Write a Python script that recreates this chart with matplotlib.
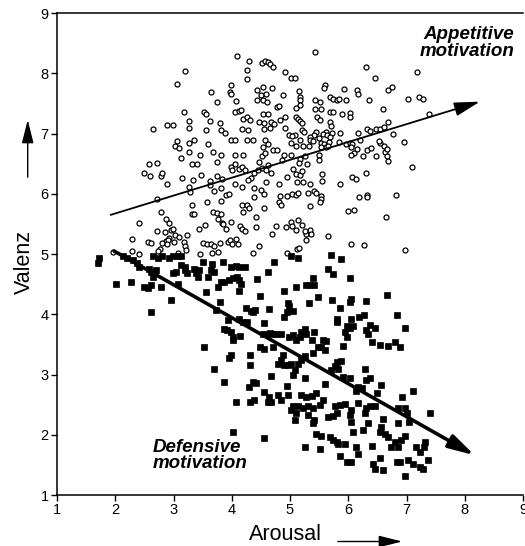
import matplotlib
matplotlib.use("Agg")
import matplotlib.pyplot as plt
from matplotlib.patches import FancyArrowPatch

plt.rcParams['font.family'] = ['Liberation Sans', 'DejaVu Sans']

# appetitive ratings (open circles): arousal, valence
app_x = [4.09, 4.30, 4.26, 4.52, 4.57, 4.62, 4.66, 4.70, 4.91, 4.27, 3.20, 3.06, 3.99, 3.64, 3.97, 3.98,
         4.44, 4.53, 4.69, 4.50, 4.59, 4.43, 4.54, 4.60, 4.88, 3.74, 4.07, 4.78, 4.81, 3.18, 3.52, 3.56,
         4.05, 4.12, 4.16, 4.20, 4.26, 4.31, 4.54, 4.63, 4.46, 4.55, 4.68, 4.73, 4.82, 4.92, 3.27, 3.27,
         3.62, 3.79, 3.82, 3.89, 3.55, 4.17, 4.28, 2.64, 2.89, 2.99, 4.56, 4.66, 4.91, 4.98, 3.98, 4.05,
         4.26, 4.36, 4.57, 4.63, 4.54, 3.06, 3.03, 3.09, 3.26, 3.35, 3.59, 3.27, 3.45, 3.68, 3.74, 3.82,
         4.05, 4.19, 4.52, 4.57, 4.70, 4.78, 4.89, 3.12, 3.32, 3.41, 2.58, 2.72, 2.49, 2.60, 2.79, 2.81,
         2.89, 3.15, 3.33, 3.48, 3.63, 3.74, 3.84, 3.98, 4.01, 4.05, 4.13, 4.17, 4.23, 4.33, 4.28, 4.39,
         4.46, 4.45, 4.52, 4.59, 4.62, 4.68, 4.86, 4.95, 3.27, 3.28, 3.62, 3.70, 3.81, 3.90, 3.95, 4.05,
         4.18, 4.38, 4.50, 4.55, 4.59, 4.81, 4.83, 4.95, 2.71, 3.57, 3.82, 3.32, 4.17, 4.26, 4.30, 4.20,
         4.39, 4.55, 4.81, 4.85, 3.32, 3.35, 3.68, 3.74, 3.82, 3.77, 3.83, 3.85, 3.90, 3.98, 4.15, 4.17,
         4.22, 4.41, 4.42, 4.93, 4.76, 4.69, 2.79, 2.40, 2.87, 2.92, 2.72, 2.85, 2.96, 2.99, 3.03, 2.93,
         2.87, 2.91, 3.10, 3.24, 3.43, 3.54, 2.29, 2.56, 2.61, 2.81, 2.89, 3.00, 3.18, 3.19, 3.21, 2.77,
         2.74, 2.28, 2.41, 1.96, 3.50, 3.57, 3.64, 3.70, 3.80, 3.93, 3.97, 4.07, 4.00, 4.10, 3.46, 3.66,
         3.77, 4.36, 4.46, 4.95, 3.07,
         5.43, 5.02, 5.08, 6.31, 6.46, 7.18, 6.68, 6.75, 6.15, 6.16, 5.92, 5.60, 5.59, 5.15, 5.18, 5.18,
         5.17, 5.43, 5.51, 5.68, 5.73, 5.80, 5.84, 5.96, 6.36, 7.02, 7.21, 7.28, 7.39, 5.11, 5.43, 5.53,
         5.68, 5.73, 5.89, 6.03, 6.03, 6.60, 5.10, 5.13, 5.18, 5.21, 5.47, 5.52, 5.69, 5.71, 5.86, 5.72,
         5.61, 5.57, 5.64, 5.68, 5.45, 5.42, 6.16, 6.33, 6.38, 6.48, 6.54, 6.61, 6.68, 6.77, 6.96, 5.17,
         5.22, 5.02, 5.11, 5.08, 5.03, 5.20, 5.24, 5.34, 5.32, 5.35, 5.40, 5.50, 5.54, 5.59, 5.61, 5.53,
         5.50, 5.50, 5.67, 5.65, 5.84, 5.96, 6.03, 6.06, 6.20, 6.26, 6.15, 6.10, 6.04, 6.04, 6.33, 6.39,
         6.47, 6.55, 6.62, 6.63, 6.66, 6.68, 6.53, 6.66, 5.30, 5.01, 5.17, 5.15, 5.26, 5.05, 5.10, 5.17,
         5.21, 5.12, 5.22, 5.35, 5.55, 5.55, 5.85, 6.07, 6.14, 6.31, 6.19, 6.33, 6.33, 6.82, 7.10, 5.03,
         5.11, 5.13, 5.31, 5.41, 5.45, 5.54, 5.53, 5.52, 5.35, 6.00, 6.10, 6.65, 5.02, 5.13, 5.10, 5.04,
         5.20, 5.28, 5.27, 5.34, 5.36, 5.26, 5.65, 5.12, 5.15, 6.04, 6.27, 6.97]
app_y = [8.29, 8.21, 8.06, 8.17, 8.21, 8.18, 8.16, 8.10, 8.02, 7.90, 8.04, 7.83, 7.80, 7.69, 7.69, 7.65,
         7.73, 7.78, 7.76, 7.64, 7.65, 7.55, 7.55, 7.52, 7.64, 7.52, 7.54, 7.44, 7.45, 7.36, 7.36, 7.32,
         7.36, 7.38, 7.39, 7.24, 7.27, 7.23, 7.32, 7.33, 7.19, 7.17, 7.20, 7.16, 7.22, 7.27, 7.21, 7.10,
         7.21, 7.17, 7.06, 7.01, 7.06, 7.07, 7.06, 7.08, 7.14, 7.14, 7.08, 7.10, 7.10, 6.97, 6.89, 6.90,
         6.90, 6.90, 6.89, 6.82, 6.78, 6.88, 6.80, 6.76, 6.85, 6.90, 6.82, 6.70, 6.64, 6.69, 6.53, 6.64,
         6.64, 6.64, 6.62, 6.67, 6.72, 6.72, 6.64, 6.59, 6.50, 6.49, 6.49, 6.51, 6.34, 6.30, 6.30, 6.35,
         6.16, 6.27, 6.23, 6.31, 6.22, 6.30, 6.25, 6.45, 6.39, 6.50, 6.41, 6.45, 6.39, 6.27, 6.23, 6.34,
         6.53, 6.39, 6.43, 6.39, 6.48, 6.34, 6.56, 6.28, 6.11, 6.03, 6.15, 6.05, 6.09, 5.98, 6.00, 6.17,
         6.12, 6.10, 6.06, 6.00, 6.20, 6.16, 5.96, 5.96, 5.92, 5.86, 5.88, 5.81, 5.82, 5.82, 5.77, 5.70,
         5.95, 5.77, 5.87, 5.81, 5.67, 5.66, 5.70, 5.68, 5.66, 5.58, 5.52, 5.50, 5.42, 5.53, 5.47, 5.42,
         5.39, 5.62, 5.45, 5.45, 5.47, 5.33, 5.70, 5.51, 5.58, 5.51, 5.39, 5.36, 5.40, 5.41, 5.31, 5.26,
         5.21, 5.24, 5.29, 5.31, 5.42, 5.48, 5.25, 5.20, 5.19, 5.19, 5.16, 5.20, 5.20, 5.13, 5.07, 5.09,
         5.05, 5.05, 5.00, 5.04, 5.19, 5.16, 5.16, 5.14, 5.19, 5.20, 5.23, 5.25, 5.17, 5.17, 5.00, 5.02,
         5.03, 5.01, 5.13, 5.01, 5.01,
         8.35, 7.92, 7.92, 8.10, 7.92, 8.03, 7.73, 7.77, 7.72, 7.66, 7.74, 7.80, 7.75, 7.71, 7.61, 7.56,
         7.47, 7.56, 7.53, 7.60, 7.58, 7.56, 7.57, 7.55, 7.56, 7.57, 7.60, 7.57, 7.32, 7.43, 7.41, 7.40,
         7.36, 7.35, 7.33, 7.34, 7.27, 7.40, 7.28, 7.25, 7.21, 7.18, 7.27, 7.22, 7.20, 7.13, 7.01, 7.01,
         7.03, 6.99, 6.97, 6.95, 7.03, 6.98, 7.01, 7.07, 7.04, 7.08, 7.08, 7.11, 7.19, 6.99, 6.86, 6.89,
         6.80, 6.85, 6.80, 6.98, 6.96, 7.06, 7.03, 6.95, 6.80, 6.90, 6.87, 6.93, 6.84, 6.83, 6.78, 6.78,
         6.65, 6.56, 6.86, 6.80, 6.86, 6.83, 6.84, 6.82, 6.89, 6.63, 6.74, 6.67, 6.64, 6.78, 6.73, 6.76,
         6.63, 6.84, 6.80, 6.69, 6.63, 6.55, 6.88, 6.75, 6.49, 6.65, 6.57, 6.51, 6.62, 6.41, 6.33, 6.31,
         6.38, 6.20, 6.20, 6.17, 6.33, 6.22, 6.17, 6.28, 6.24, 6.34, 5.95, 5.98, 5.94, 5.98, 6.44, 5.99,
         5.98, 6.02, 6.02, 6.04, 6.02, 5.96, 5.91, 5.87, 5.79, 5.71, 5.73, 5.62, 5.54, 5.56, 5.40, 5.47,
         5.49, 5.34, 5.24, 5.40, 5.34, 5.38, 5.30, 5.08, 5.10, 5.16, 5.15, 5.07]

# defensive ratings (filled squares)
def_x = [1.72, 1.70, 2.01, 2.27, 2.14, 2.21, 2.31, 2.38, 2.41, 2.50, 2.56, 2.61, 2.64, 2.73, 2.81, 2.93,
         2.99, 3.07, 3.13, 2.58, 2.61, 2.67, 2.70, 2.64, 2.78, 2.96, 2.99, 3.04, 3.07, 3.13, 3.19, 3.19,
         3.24, 3.36, 3.39, 3.42, 3.44, 3.50, 3.56, 3.59, 3.65, 3.66, 3.70, 3.76, 3.79, 3.82, 3.87, 3.85,
         3.96, 3.99, 4.08, 4.13, 4.22, 4.02, 4.09, 4.13, 4.13, 4.16, 4.44, 4.62, 4.72, 4.49, 4.25, 4.33,
         4.40, 3.73, 3.93, 4.13, 4.19, 4.26, 3.87, 3.92, 3.99, 4.02, 4.02, 4.15, 3.53, 4.36, 4.64, 4.56,
         4.53, 4.59, 4.65, 4.71, 4.76, 4.85, 4.90, 4.90, 4.48, 4.56, 4.71, 4.88, 4.85, 4.89, 4.79, 3.96,
         3.99, 4.32, 4.31, 3.69, 3.86, 4.36, 4.42, 4.29, 4.68, 4.56, 4.64, 4.68, 4.79, 4.85, 4.08, 4.32,
         4.39, 4.62, 4.02, 4.56, 2.61,
         5.02, 5.14, 5.70, 5.87, 5.65, 5.74, 6.03, 5.39, 5.28, 5.34, 5.42, 5.11, 4.96, 4.99, 5.05, 4.94,
         5.32, 5.48, 5.72, 5.85, 6.03, 6.05, 6.31, 6.66, 5.80, 5.80, 6.05, 6.18, 6.27, 5.97, 6.03, 6.08,
         5.94, 5.97, 6.37, 6.46, 6.31, 6.34, 6.83, 6.97, 6.40, 6.54, 6.69, 6.81, 6.89, 5.91, 5.42, 5.25,
         5.19, 5.28, 5.17, 5.11, 4.99, 5.05, 5.37, 5.57, 5.62, 5.48, 5.54, 5.60, 5.39, 5.25, 5.19, 5.14,
         5.02, 4.96, 5.08, 5.05, 5.80, 5.88, 5.77, 5.83, 5.71, 5.91, 6.03, 6.28, 6.37, 6.31, 6.17, 6.23,
         6.14, 6.57, 6.49, 6.92, 7.12, 5.25, 5.60, 4.94, 4.96, 5.19, 5.28, 5.37, 5.45, 5.57, 5.51, 5.40,
         5.31, 5.22, 5.14, 5.05, 5.02, 5.11, 5.08, 5.31, 5.42, 5.39, 5.65, 5.74, 5.80, 5.77, 5.85, 5.94,
         6.17, 6.05, 6.03, 6.05, 6.31, 6.37, 6.46, 6.28, 6.34, 6.26, 6.08, 5.45, 5.54, 5.68, 5.74, 5.80,
         5.83, 5.94, 6.14, 6.40, 6.60, 6.57, 6.54, 6.63, 6.69, 6.86, 6.85, 6.98, 7.00, 7.04, 6.97, 6.91,
         6.80, 6.74, 6.86, 7.17, 7.23, 7.32, 7.30, 7.40, 5.25, 5.51, 5.85, 5.97, 6.05, 6.17, 6.43, 6.46,
         6.60, 6.54, 6.83, 6.89, 7.03, 7.12, 7.23, 7.29, 7.37, 6.97]
def_y = [4.93, 4.85, 4.51, 4.54, 4.96, 4.93, 4.90, 4.85, 4.79, 4.46, 4.43, 4.49, 4.96, 4.93, 4.96, 4.94,
         4.97, 4.96, 4.97, 4.76, 4.71, 4.68, 4.73, 4.62, 4.46, 4.24, 4.68, 4.70, 4.51, 4.82, 4.79, 4.73,
         4.68, 4.75, 4.68, 4.62, 4.73, 4.87, 4.37, 4.62, 4.73, 4.84, 4.71, 4.46, 4.20, 4.54, 4.53, 4.86,
         4.57, 4.79, 4.80, 4.79, 4.79, 4.60, 4.62, 4.57, 4.39, 4.51, 4.58, 4.71, 4.86, 4.30, 4.11, 4.06,
         4.07, 4.07, 3.90, 3.93, 3.88, 3.88, 3.75, 3.74, 3.71, 3.63, 3.57, 3.64, 3.45, 4.04, 4.08, 3.85,
         3.68, 3.68, 3.69, 3.68, 3.67, 3.68, 4.39, 3.96, 3.46, 3.42, 3.46, 3.32, 3.24, 3.16, 3.18, 3.27,
         3.32, 3.32, 3.16, 3.10, 2.87, 2.88, 2.86, 2.80, 2.97, 2.71, 2.63, 2.55, 2.66, 2.58, 2.54, 2.55,
         2.58, 2.55, 2.05, 1.94, 4.03,
         4.96, 4.93, 4.98, 4.91, 4.75, 4.67, 4.60, 4.61, 4.49, 4.49, 4.49, 4.46, 4.18, 4.13, 4.06, 4.04,
         4.18, 4.28, 4.23, 4.10, 4.21, 4.25, 4.22, 4.32, 3.93, 3.88, 3.93, 3.95, 3.99, 3.80, 3.77, 3.80,
         3.71, 3.62, 3.82, 3.78, 3.74, 3.68, 3.99, 3.78, 3.54, 3.49, 3.47, 3.54, 3.45, 3.47, 3.71, 3.75,
         3.71, 3.68, 3.63, 3.58, 3.63, 3.65, 3.57, 3.58, 3.56, 3.46, 3.45, 3.41, 3.35, 3.30, 3.24, 3.17,
         3.18, 3.16, 3.07, 2.99, 3.21, 3.23, 3.14, 3.10, 3.07, 2.96, 2.95, 3.10, 2.95, 2.91, 2.80, 2.77,
         2.72, 2.83, 2.69, 2.63, 2.72, 2.94, 2.85, 2.81, 2.66, 2.66, 2.63, 2.64, 2.69, 2.58, 2.49, 2.45,
         2.47, 2.44, 2.47, 2.48, 2.41, 2.36, 2.24, 2.33, 2.24, 2.20, 2.30, 2.31, 2.36, 2.47, 2.49, 2.51,
         2.53, 2.41, 2.33, 2.22, 2.44, 2.47, 2.47, 2.36, 2.20, 2.08, 2.05, 2.02, 1.98, 1.96, 1.91, 1.88,
         1.85, 1.85, 1.80, 1.82, 2.26, 2.13, 2.05, 2.02, 1.97, 2.20, 2.44, 2.44, 2.36, 2.22, 1.98, 1.91,
         1.88, 1.79, 1.79, 1.80, 1.72, 1.88, 1.79, 2.36, 1.79, 1.77, 1.65, 1.55, 1.55, 1.68, 1.51, 1.43,
         1.41, 1.61, 1.55, 1.55, 1.58, 1.51, 1.47, 1.43, 1.58, 1.32]

# regression arrows (start, end) in data units
app_arrow = [(1.92, 5.65), (8.26, 7.53)]
def_arrow = [(1.98, 5.05), (8.17, 1.66)]

ticks = [1, 2, 3, 4, 5, 6, 7, 8, 9]

fig = plt.figure(figsize=(5.25, 5.46), dpi=100)
ax = fig.add_axes([0.1086, 0.0934, 0.8876, 0.8826])

ax.plot(app_x, app_y, 'o', mfc='white', mec='black', ms=3.6, mew=0.9, ls='none')
ax.plot(def_x, def_y, 's', mfc='black', mec='black', ms=3.8, mew=0.5, ls='none')

ax.annotate('', xy=app_arrow[1], xytext=app_arrow[0],
            arrowprops=dict(arrowstyle='-|>,head_length=1.3,head_width=0.35', color='black',
                            lw=1.3, shrinkA=0, shrinkB=0, mutation_scale=12))
ax.annotate('', xy=def_arrow[1], xytext=def_arrow[0],
            arrowprops=dict(arrowstyle='-|>,head_length=1.3,head_width=0.35', color='black',
                            lw=2.6, shrinkA=0, shrinkB=0, mutation_scale=12))

ax.text(8.85, 8.78, 'Appetitive\nmotivation', ha='right', va='top', fontsize=13.5,
        fontweight='bold', fontstyle='italic', linespacing=0.95)
ax.text(2.64, 1.93, 'Defensive\nmotivation', ha='left', va='top', fontsize=13.5,
        fontweight='bold', fontstyle='italic', linespacing=0.95)

ax.set_xlim(1, 9)
ax.set_ylim(1, 9)
ax.set_xticks(ticks)
ax.set_yticks(ticks)
ax.tick_params(direction='out', length=4, width=1, labelsize=10.5, pad=2)
ax.tick_params(axis='x', top=False)
ax.tick_params(axis='y', right=False)
ax.spines['right'].set_visible(False)
for s in ax.spines.values():
    s.set_linewidth(1.1)

fig.text(249 / 525, 1 - 534 / 546, 'Arousal', ha='left', va='center', fontsize=15.5)
fig.text(24 / 525, 1 - 262 / 546, 'Valenz', ha='center', va='center', fontsize=15.5, rotation=90)
fig.patches.append(FancyArrowPatch(
    (335 / 525, 1 - 541.5 / 546), (405 / 525, 1 - 541.5 / 546), transform=fig.transFigure,
    arrowstyle='-|>,head_length=1.2,head_width=0.3', mutation_scale=12, lw=1.0, color='black'))
fig.patches.append(FancyArrowPatch(
    (27.7 / 525, 1 - 180 / 546), (27.7 / 525, 1 - 117 / 546), transform=fig.transFigure,
    arrowstyle='-|>,head_length=1.2,head_width=0.3', mutation_scale=12, lw=1.0, color='black'))

fig.savefig('out.png', dpi=100)
